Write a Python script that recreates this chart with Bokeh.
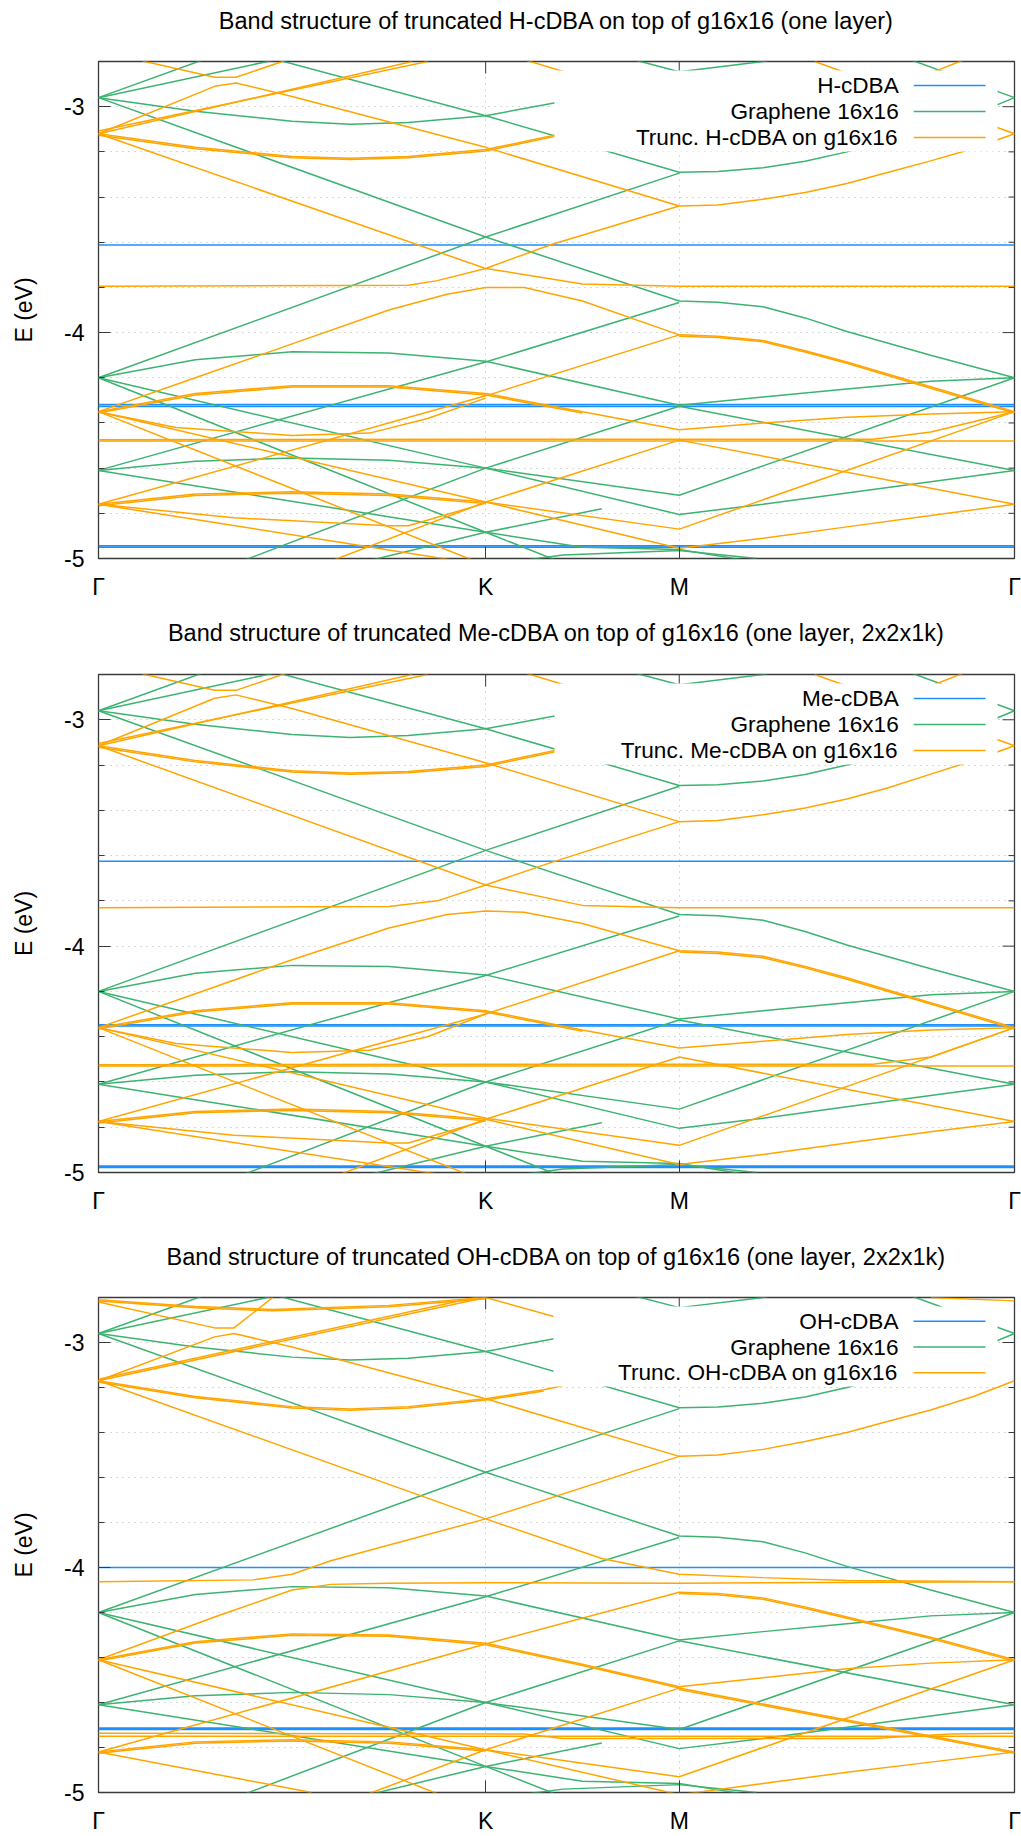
from bokeh.plotting import figure
from bokeh.layouts import column
from bokeh.models import FixedTicker, Range1d, CustomJSTickFormatter
from bokeh.embed import file_html
from bokeh.resources import INLINE
from bokeh.core.properties import value

# ---------------- data ----------------
K_TICKS = [0.0, 2.0, 3.0, 4.732]
K_LABELS = ["Γ", "K", "M", "Γ"]
E_MAJOR = [-5.0, -4.0, -3.0]
E_MINOR = [-4.8, -4.6, -4.4, -4.2, -3.8, -3.6, -3.4, -3.2, -2.8]
K_MAX = 4.732
E_MIN, E_MAX = -5.0, -2.8

# graphene 16x16 bands: (k, E) nodes
GRAPHENE_16 = [
    [(0, -2.96), (1.0, -2.65)],
    [(0, -2.96), (1.2, -2.74)],
    [(0, -2.58), (2.0, -3.04), (3.0, -3.29), (3.2, -3.287), (3.433, -3.27), (3.65, -3.242), (3.866, -3.20), (4.08, -3.153), (4.299, -3.10), (4.52, -3.035), (4.732, -2.96)],
    [(0, -2.96), (0.5, -3.02), (1.0, -3.065), (1.3, -3.078), (1.6, -3.07), (2.0, -3.04), (2.5, -2.96), (3.0, -2.85)],
    [(2.4, -2.71), (3.0, -2.845), (3.433, -2.80), (3.9, -2.72)],
    [(3.9, -2.70), (4.732, -2.96)],
    [(0, -2.96), (2.0, -3.577), (3.0, -3.86), (3.2, -3.866), (3.433, -3.886), (3.65, -3.935), (3.866, -3.995), (4.299, -4.10), (4.732, -4.20)],
    [(0, -4.20), (2.0, -3.577), (3.0, -3.294)],
    [(0, -4.20), (0.5, -4.12), (1.0, -4.085), (1.5, -4.09), (2.0, -4.127), (3.0, -4.322), (3.433, -4.285), (3.866, -4.25), (4.299, -4.215), (4.732, -4.20)],
    [(0, -4.20), (2.0, -4.60), (3.0, -4.72), (4.732, -4.20)],
    [(0, -4.61), (2.0, -4.13), (3.0, -3.867)],
    [(0, -4.61), (0.5, -4.57), (1.0, -4.555), (1.5, -4.565), (2.0, -4.60), (3.0, -4.805), (3.433, -4.76), (3.866, -4.71), (4.299, -4.66), (4.732, -4.61)],
    [(0.5, -5.09), (2.0, -4.60), (3.0, -4.326), (4.732, -4.61)],
    [(0, -4.61), (2.0, -4.884), (2.5, -4.95), (3.0, -4.96), (3.5, -5.03)],
    [(0, -4.20), (2.0, -4.884), (2.4, -5.02)],
    [(2.0, -5.03), (2.4, -4.985), (3.0, -4.965), (3.4, -5.0)],
    [(1.3, -5.03), (2.0, -4.884), (2.6, -4.78)],
]

H_LEVELS = [-3.612, -4.319, -4.327, -4.944, -4.950]
ME_LEVELS = [-3.625, -4.347, -4.353, -4.972, -4.978]
OH_LEVELS = [-4.000, -4.714, -4.720]

H_TRUNC = [
    [(0, -3.12), (1.62, -2.80)],
    [(0, -3.108), (1.70, -2.80)],
    [(0, -3.12), (0.6, -2.91), (0.71, -2.895), (1.0, -2.955), (2.0, -3.18), (3.0, -3.44), (3.2, -3.435), (3.433, -3.41), (3.65, -3.38), (3.866, -3.34), (4.08, -3.29), (4.299, -3.24), (4.52, -3.185), (4.732, -3.12)],
    [(0.1, -2.76), (0.24, -2.80), (0.6, -2.87), (0.71, -2.87), (0.95, -2.80), (1.2, -2.72)],
    [(0, -3.12), (0.5, -3.18), (1.0, -3.22), (1.3, -3.228), (1.6, -3.22), (2.0, -3.19), (2.5, -3.10), (3.0, -3.0)],
    [(0, -3.126), (0.5, -3.186), (1.0, -3.226), (1.3, -3.234), (1.6, -3.226), (2.0, -3.196), (2.5, -3.106)],
    [(2.0, -2.74), (3.0, -3.0), (3.433, -2.95), (3.866, -2.88)],
    [(3.7, -2.80), (4.732, -3.12)],
    [(4.0, -2.95), (4.6, -2.75)],
    [(0, -3.12), (2.0, -3.716), (2.5, -3.785), (3.0, -3.795), (4.732, -3.795)],
    [(0, -3.795), (1.6, -3.79), (1.75, -3.77), (2.0, -3.716), (2.34, -3.61), (3.0, -3.44)],
    [(0, -4.35), (0.5, -4.20), (1.0, -4.05), (1.5, -3.90), (1.8, -3.83), (2.0, -3.80), (2.2, -3.80), (2.5, -3.86), (3.0, -4.01), (3.2, -4.016), (3.433, -4.035), (3.65, -4.08), (3.866, -4.13), (4.299, -4.24), (4.732, -4.35)],
    [(3.0, -4.016), (3.2, -4.022), (3.433, -4.041), (3.65, -4.086), (3.866, -4.136), (4.299, -4.246), (4.732, -4.356)],
    [(0, -4.35), (0.5, -4.27), (1.0, -4.235), (1.5, -4.235), (2.0, -4.27), (2.5, -4.35), (3.0, -4.43), (3.433, -4.40), (3.866, -4.375), (4.299, -4.36), (4.732, -4.35)],
    [(0, -4.356), (0.5, -4.276), (1.0, -4.241), (1.5, -4.241), (2.0, -4.276), (2.5, -4.356)],
    [(0, -4.35), (2.0, -4.75), (3.0, -4.87), (4.732, -4.35)],
    [(0, -4.76), (2.0, -4.28), (3.0, -4.01)],
    [(0, -4.76), (0.5, -4.715), (1.0, -4.705), (1.5, -4.715), (2.0, -4.75), (3.0, -4.955), (3.433, -4.91), (3.866, -4.86), (4.299, -4.81), (4.732, -4.76)],
    [(0, -4.766), (0.5, -4.721), (1.0, -4.711), (1.5, -4.721), (2.0, -4.756)],
    [(0.5, -5.24), (2.0, -4.75), (3.0, -4.476), (4.732, -4.76)],
    [(0, -4.76), (2.0, -5.03)],
    [(0, -4.35), (2.0, -5.03)],
    [(0, -4.48), (4.732, -4.48)],
    [(0, -4.474), (2.0, -4.472), (4.0, -4.472), (4.3, -4.44), (4.732, -4.35)],
    [(0, -4.35), (0.4, -4.42), (1.0, -4.455), (1.4, -4.445), (1.7, -4.38), (2.0, -4.29)],
    [(0, -4.76), (0.7, -4.82), (1.5, -4.855), (1.6, -4.855), (2.0, -4.755)],
]

ME_TRUNC = [
    [(0, -3.115), (1.62, -2.80)],
    [(0, -3.105), (1.70, -2.80)],
    [(0, -3.115), (0.6, -2.905), (0.71, -2.89), (1.0, -2.95), (2.0, -3.19), (3.0, -3.45), (3.2, -3.445), (3.433, -3.42), (3.65, -3.39), (3.866, -3.35), (4.08, -3.30), (4.299, -3.24), (4.52, -3.18), (4.732, -3.115)],
    [(0.1, -2.76), (0.24, -2.80), (0.6, -2.87), (0.71, -2.87), (0.95, -2.80), (1.2, -2.72)],
    [(0, -3.115), (0.5, -3.18), (1.0, -3.225), (1.3, -3.235), (1.6, -3.228), (2.0, -3.20), (2.5, -3.11), (3.0, -3.0)],
    [(0, -3.121), (0.5, -3.186), (1.0, -3.231), (1.3, -3.241), (1.6, -3.234), (2.0, -3.206), (2.5, -3.116)],
    [(2.0, -2.74), (3.0, -3.0), (3.433, -2.95), (3.866, -2.88)],
    [(3.7, -2.80), (4.732, -3.115)],
    [(4.0, -2.95), (4.6, -2.75)],
    [(0, -3.115), (2.0, -3.73), (2.5, -3.82), (3.0, -3.83), (4.732, -3.83)],
    [(0, -3.83), (1.5, -3.825), (1.75, -3.80), (2.0, -3.73), (2.34, -3.63), (3.0, -3.45)],
    [(0, -4.36), (0.5, -4.21), (1.0, -4.06), (1.5, -3.92), (1.8, -3.86), (2.0, -3.845), (2.2, -3.85), (2.5, -3.90), (3.0, -4.02), (3.2, -4.026), (3.433, -4.045), (3.65, -4.09), (3.866, -4.14), (4.299, -4.25), (4.732, -4.36)],
    [(3.0, -4.026), (3.2, -4.032), (3.433, -4.051), (3.65, -4.096), (3.866, -4.146), (4.299, -4.256), (4.732, -4.366)],
    [(0, -4.36), (0.5, -4.285), (1.0, -4.25), (1.5, -4.25), (2.0, -4.285), (2.5, -4.37), (3.0, -4.45), (3.433, -4.42), (3.866, -4.39), (4.299, -4.37), (4.732, -4.36)],
    [(0, -4.366), (0.5, -4.291), (1.0, -4.256), (1.5, -4.256), (2.0, -4.291), (2.5, -4.376)],
    [(0, -4.36), (2.0, -4.76), (3.0, -4.88), (4.732, -4.36)],
    [(0, -4.775), (2.0, -4.30), (3.0, -4.02)],
    [(0, -4.775), (0.5, -4.73), (1.0, -4.72), (1.5, -4.73), (2.0, -4.765), (3.0, -4.965), (3.433, -4.92), (3.866, -4.87), (4.299, -4.82), (4.732, -4.775)],
    [(0, -4.781), (0.5, -4.736), (1.0, -4.726), (1.5, -4.736), (2.0, -4.771)],
    [(0.5, -5.25), (2.0, -4.765), (3.0, -4.49), (4.732, -4.775)],
    [(0, -4.775), (2.0, -5.04)],
    [(0, -4.36), (2.0, -5.04)],
    [(0, -4.53), (4.732, -4.53)],
    [(0, -4.524), (2.0, -4.522), (4.0, -4.522), (4.3, -4.49), (4.732, -4.36)],
    [(0, -4.36), (0.4, -4.43), (1.0, -4.47), (1.4, -4.46), (1.7, -4.40), (2.0, -4.30)],
    [(0, -4.775), (0.7, -4.835), (1.5, -4.87), (1.6, -4.87), (2.0, -4.77)],
]

OH_TRUNC = [
    [(0, -2.81), (0.5, -2.84), (0.9, -2.853), (1.5, -2.835), (2.0, -2.80)],
    [(0, -2.816), (0.5, -2.846), (0.9, -2.859), (1.5, -2.841), (2.0, -2.806)],
    [(4.3, -2.80), (4.732, -2.815)],
    [(2.0, -2.80), (2.5, -2.92)],
    [(0, -3.17), (2.0, -2.80)],
    [(0, -3.163), (2.0, -2.79)],
    [(0, -3.17), (0.6, -2.975), (0.7, -2.96), (1.0, -3.02), (2.0, -3.25), (3.0, -3.506), (3.2, -3.50), (3.433, -3.475), (3.65, -3.44), (3.866, -3.40), (4.08, -3.35), (4.299, -3.30), (4.52, -3.24), (4.732, -3.17)],
    [(0, -2.82), (0.6, -2.935), (0.7, -2.935), (0.9, -2.8)],
    [(0, -3.17), (0.5, -3.24), (1.0, -3.285), (1.3, -3.295), (1.6, -3.285), (2.0, -3.25), (2.3, -3.21), (3.0, -3.08)],
    [(0, -3.176), (0.5, -3.246), (1.0, -3.291), (1.3, -3.301), (1.6, -3.291), (2.0, -3.256), (2.3, -3.216)],
    [(0, -3.17), (2.0, -3.784), (2.6, -3.96), (3.0, -4.03), (3.433, -4.045), (3.866, -4.058), (4.732, -4.063)],
    [(0, -4.063), (0.8, -4.055), (1.0, -4.03), (1.2, -3.97), (2.0, -3.784), (3.0, -3.506)],
    [(0, -4.41), (0.6, -4.22), (1.0, -4.10), (1.2, -4.075), (1.5, -4.07), (2.0, -4.068), (3.0, -4.07), (4.732, -4.063)],
    [(0, -4.82), (2.0, -4.34), (3.0, -4.11), (3.2, -4.115), (3.433, -4.135), (3.65, -4.175), (3.866, -4.22), (4.299, -4.31), (4.732, -4.41)],
    [(3.0, -4.116), (3.2, -4.121), (3.433, -4.141), (3.65, -4.181), (3.866, -4.226), (4.299, -4.316), (4.732, -4.416)],
    [(0, -4.41), (0.5, -4.33), (1.0, -4.295), (1.5, -4.30), (2.0, -4.337), (2.5, -4.43), (3.0, -4.53), (3.433, -4.49), (3.866, -4.45), (4.299, -4.425), (4.732, -4.41)],
    [(0, -4.416), (0.5, -4.336), (1.0, -4.301), (1.5, -4.306), (2.0, -4.343), (2.5, -4.436), (3.0, -4.536)],
    [(0, -4.41), (2.0, -4.81), (3.0, -4.93), (4.732, -4.41)],
    [(0, -4.41), (2.0, -5.09)],
    [(0, -4.82), (0.5, -4.775), (1.0, -4.765), (1.5, -4.775), (2.0, -4.81), (3.0, -5.01), (3.433, -4.96), (3.866, -4.91), (4.299, -4.865), (4.732, -4.82)],
    [(0, -4.826), (0.5, -4.781), (1.0, -4.771), (1.5, -4.781), (2.0, -4.816)],
    [(0.7, -5.23), (2.0, -4.81), (3.0, -4.536), (4.732, -4.82)],
    [(3.0, -4.542), (4.732, -4.826)],
    [(0, -4.82), (1.1, -5.0)],
    [(0, -4.737), (2.2, -4.74), (2.4, -4.76), (4.0, -4.76), (4.4, -4.74), (4.732, -4.737)],
    [(0, -4.75), (4.732, -4.75)],
]

TITLES = [
    "Band structure of truncated H-cDBA on top of g16x16 (one layer)",
    "Band structure of truncated Me-cDBA on top of g16x16 (one layer, 2x2x1k)",
    "Band structure of truncated OH-cDBA on top of g16x16 (one layer, 2x2x1k)",
]
LEGENDS = [
    ["H-cDBA", "Graphene 16x16", "Trunc. H-cDBA on g16x16"],
    ["Me-cDBA", "Graphene 16x16", "Trunc. Me-cDBA on g16x16"],
    ["OH-cDBA", "Graphene 16x16", "Trunc. OH-cDBA on g16x16"],
]
LEVELS = [H_LEVELS, ME_LEVELS, OH_LEVELS]
TRUNC = [H_TRUNC, ME_TRUNC, OH_TRUNC]

# ---------------- style / layout ----------------
FONT = "Liberation Sans"
FS = "23px"
FS_TITLE = "23.5px"
FS_KEY = "22.6px"
BLUE = "#1e8fff"
GREEN = "#3cb371"
ORANGE = "#ffa500"
FRAME = "#3a3a3a"
W = 1021
LAYOUT = [  # title strip height, fig height, left, top border, bottom border
    dict(th=40, h=572, left=96, top=21, bottom=54),
    dict(th=42, h=582, left=96, top=20, bottom=64),
    dict(th=41, h=559, left=98, top=20, bottom=39),
]

tick_fmt = CustomJSTickFormatter(args=dict(kpos=K_TICKS, klab=K_LABELS), code="""
let best = 0;
for (let i = 0; i < kpos.length; i++) {
  if (Math.abs(kpos[i] - tick) < Math.abs(kpos[best] - tick)) best = i;
}
return klab[best];
""")
e_fmt = CustomJSTickFormatter(code="return tick.toFixed(0);")


def split(bands):
    xs = [[pt[0] for pt in b] for b in bands]
    ys = [[pt[1] for pt in b] for b in bands]
    return xs, ys


def title_strip(text, th, left):
    # strip whose frame spans exactly the plot frame columns
    t = figure(width=W, height=th, x_range=Range1d(0, K_MAX), y_range=Range1d(0, th),
               x_axis_type=None, y_axis_type=None, output_backend="svg", toolbar_location=None,
               min_border_left=left, min_border_right=7, min_border_top=0, min_border_bottom=0)
    t.outline_line_color = None
    t.grid.visible = False
    t.text(x=[K_MAX / 2], y=[th - 20], text=[text], text_align="center", text_baseline="middle",
           text_font=value(FONT), text_font_size=value(FS_TITLE), text_color="#000000")
    return t


items = []
for i in range(3):
    L = LAYOUT[i]
    items.append(title_strip(TITLES[i], L["th"], L["left"]))
    fw = W - L["left"] - 7
    fh = L["h"] - L["top"] - L["bottom"]
    pxk = fw / K_MAX
    pxe = fh / (E_MAX - E_MIN)
    p = figure(width=W, height=L["h"], x_range=Range1d(0, K_MAX), y_range=Range1d(E_MIN, E_MAX),
               output_backend="svg", toolbar_location=None,
               min_border_left=L["left"], min_border_right=7,
               min_border_top=L["top"], min_border_bottom=L["bottom"])
    p.outline_line_color = FRAME
    p.outline_line_width = 1.3

    xa = p.xaxis[0]
    xa.ticker = FixedTicker(ticks=K_TICKS)
    xa.formatter = tick_fmt
    xa.axis_line_color = None
    xa.major_tick_in = 12
    xa.major_tick_out = 0
    xa.minor_tick_in = 0
    xa.minor_tick_out = 0
    xa.major_tick_line_color = FRAME
    xa.major_label_text_font = FONT
    xa.major_label_text_font_size = FS
    xa.major_label_text_color = "#000000"
    xa.major_label_standoff = 15

    ya = p.yaxis[0]
    ya.ticker = FixedTicker(ticks=E_MAJOR, minor_ticks=E_MINOR)
    ya.formatter = e_fmt
    ya.axis_line_color = None
    ya.major_tick_in = 12
    ya.major_tick_out = 0
    ya.minor_tick_in = 6
    ya.minor_tick_out = 0
    ya.major_tick_line_color = FRAME
    ya.minor_tick_line_color = FRAME
    ya.major_label_text_font = FONT
    ya.major_label_text_font_size = FS
    ya.major_label_text_color = "#000000"
    ya.major_label_standoff = 14
    ya.axis_label = "E (eV)"
    ya.axis_label_text_font = FONT
    ya.axis_label_text_font_size = FS
    ya.axis_label_text_font_style = "normal"
    ya.axis_label_text_color = "#000000"
    ya.axis_label_standoff = 24

    p.xgrid.grid_line_color = "#b0b0b0"
    p.xgrid.grid_line_dash = "1 5"
    p.ygrid.grid_line_color = "#b0b0b0"
    p.ygrid.grid_line_dash = "1 5"
    p.ygrid.minor_grid_line_color = "#b0b0b0"
    p.ygrid.minor_grid_line_dash = "1 5"

    # mirrored ticks on right and top edges
    p.segment(x0=[K_MAX - 12 / pxk] * len(E_MAJOR), y0=E_MAJOR, x1=[K_MAX] * len(E_MAJOR), y1=E_MAJOR,
              line_color=FRAME, line_width=1)
    p.segment(x0=[K_MAX - 6 / pxk] * len(E_MINOR), y0=E_MINOR, x1=[K_MAX] * len(E_MINOR), y1=E_MINOR,
              line_color=FRAME, line_width=1)
    inner = K_TICKS[1:-1]
    p.segment(x0=inner, y0=[E_MAX] * len(inner), x1=inner, y1=[E_MAX - 12 / pxe] * len(inner),
              line_color=FRAME, line_width=1)

    lv = LEVELS[i]
    p.multi_line(xs=[[0, K_MAX] for _ in lv], ys=[[e, e] for e in lv], line_color=BLUE, line_width=1.6)
    gx, gy = split(GRAPHENE_16)
    p.multi_line(xs=gx, ys=gy, line_color=GREEN, line_width=1.5)
    ox, oy = split(TRUNC[i])
    p.multi_line(xs=ox, ys=oy, line_color=ORANGE, line_width=1.5)

    # key (gnuplot style: text right, sample to the right), opaque box
    bx0 = (553 - L["left"]) / pxk
    bx1 = (997 - L["left"]) / pxk
    by0 = E_MAX - 9 / pxe
    by1 = E_MAX - 90 / pxe
    p.quad(left=[bx0], right=[bx1], top=[by0], bottom=[by1], fill_color="white", line_color=None, level="overlay")
    rows = [E_MAX - (24 + 26 * r) / pxe for r in range(3)]
    tx = (898 - L["left"]) / pxk
    sx0 = (913 - L["left"]) / pxk
    sx1 = (985 - L["left"]) / pxk
    p.segment(x0=[sx0] * 3, y0=rows, x1=[sx1] * 3, y1=rows, line_color=[BLUE, GREEN, ORANGE],
              line_width=1.5, level="overlay")
    p.text(x=[tx] * 3, y=rows, text=LEGENDS[i], text_align="right", text_baseline="middle",
           text_font=value(FONT), text_font_size=value(FS_KEY), text_color="#000000", level="overlay")
    items.append(p)

layout = column(*items, spacing=0)
open("out.html", "w").write(file_html(layout, INLINE))
